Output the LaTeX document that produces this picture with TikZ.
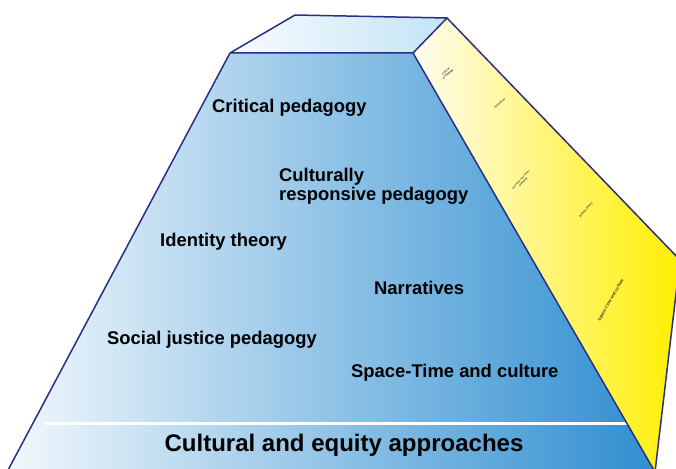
\documentclass[tikz,border=0pt]{standalone}
\usepackage{fontspec}
\setmainfont{Liberation Sans}
\begin{document}
\begin{tikzpicture}[x=1pt,y=-1pt,
  edgeline/.style={draw=edgec, line width=1.5pt, line join=round},
  lbl/.style={font=\fontsize{18.4}{19}\selectfont\bfseries, inner sep=0pt, anchor=base west, text=black, align=left},
  tiny/.style={font=\fontsize{2.7}{3.6}\selectfont\bfseries, inner sep=0pt, text=black!80, align=center}]
\definecolor{edgec}{HTML}{2B2E85}
\definecolor{frontL}{HTML}{F2F8FC}
\definecolor{frontM}{HTML}{A6D2EC}
\definecolor{frontR}{HTML}{2F8ED0}
\definecolor{topL}{HTML}{F8FCFE}
\definecolor{topR}{HTML}{C3E4F5}
\definecolor{sideL}{HTML}{FFFCF2}
\definecolor{sideR}{HTML}{FFEF00}
\useasboundingbox (0,0) rectangle (676,468);
\clip (0,0) rectangle (676,468);
% corners
\coordinate (tbl) at (295,15);
\coordinate (tbr) at (447,18);
\coordinate (tfl) at (230,53);
\coordinate (tfr) at (413,53);
\coordinate (bl) at (7,472);
\coordinate (br) at (655,472);
\coordinate (sr) at (680,260);
% faces
\shade[left color=frontL, middle color=frontM, right color=frontR] (tfl) -- (tfr) -- (br) -- (bl) -- cycle;
\shade[left color=topL, right color=topR] (tbl) -- (tbr) -- (tfr) -- (tfl) -- cycle;
\shade[left color=sideL, right color=sideR] (tfr) -- (tbr) -- (sr) -- (br) -- cycle;
% white band line
\coordinate (wl) at (45,423);
\coordinate (wr) at (627,423);
\draw[white, line width=3pt] (wl) -- (wr);
% edges
\draw[edgeline] (tfl) -- (tbl) -- (tbr) -- (tfr) -- cycle;
\draw[edgeline] (tfl) -- (bl);
\draw[edgeline] (tfr) -- (br);
\draw[edgeline] (tbr) -- (sr) -- (br);
% labels
\node[lbl] (cp) at (212,113) {Critical pedagogy};
\node[lbl] (crp1) at (279,181) {Culturally};
\node[lbl] (crp2) at (279,200) {responsive pedagogy};
\node[lbl] (it) at (160,246) {Identity theory};
\node[lbl] (nar) at (374,294) {Narratives};
\node[lbl] (sjp) at (107,344) {Social justice pedagogy};
\node[lbl] (stc) at (351,377) {Space-Time and culture};
\node[font=\fontsize{24}{26}\selectfont\bfseries, inner sep=0pt, anchor=base] (cea) at (344,451) {Cultural and equity approaches};
% tiny side-face labels
\node[tiny, rotate=40] (s1) at (447,73) {Critical\\pedagogy};
\node[tiny, rotate=42] (s2) at (500,103) {Narratives};
\node[tiny, rotate=48, font=\fontsize{2.4}{3.2}\selectfont\bfseries] (s3) at (522,181) {Culturally responsive\\pedagogy};
\node[tiny, rotate=50, font=\fontsize{2.8}{3.6}\selectfont\bfseries] (s4) at (586,210) {Identity theory};
\node[tiny, rotate=60, font=\fontsize{4.2}{5}\selectfont\bfseries] (s5) at (611,300) {Space-Time and culture};
\end{tikzpicture}
\end{document}
